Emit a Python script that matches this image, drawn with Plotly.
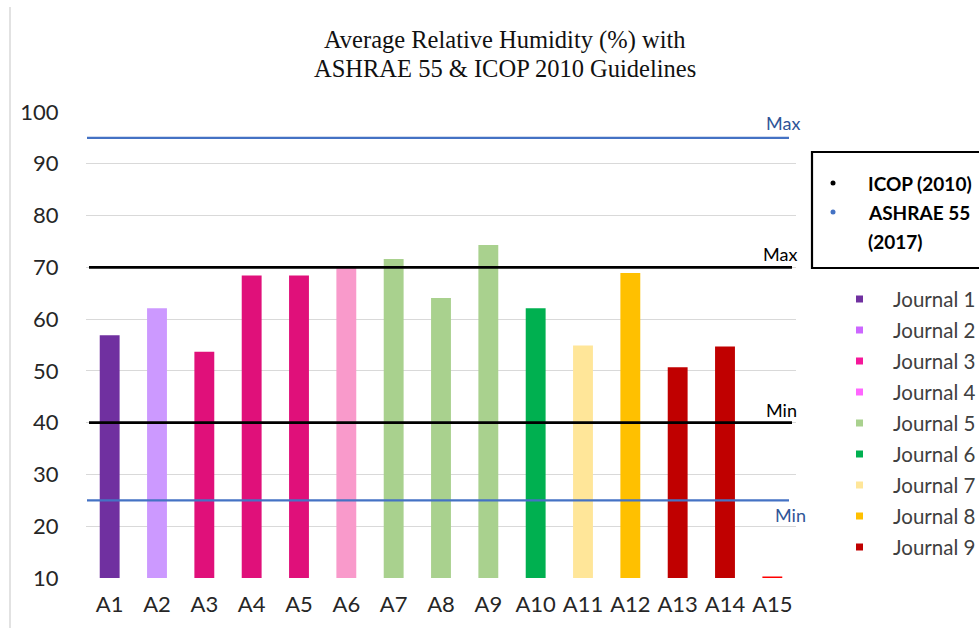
import plotly.graph_objects as go

# ---- data -------------------------------------------------------------
categories = ["A1", "A2", "A3", "A4", "A5", "A6", "A7", "A8", "A9", "A10",
              "A11", "A12", "A13", "A14", "A15"]
humidity = [56.9, 62.1, 53.7, 68.4, 68.4, 69.9, 71.6, 64.1, 74.3, 62.1,
            54.9, 68.9, 50.7, 54.7, 10.3]
bar_colors = ["#7030A0", "#CC99FF", "#E0107A", "#E0107A", "#E0107A", "#F99ACB",
              "#A9D18E", "#A9D18E", "#A9D18E", "#00B050", "#FFE699", "#FFC000",
              "#C00000", "#C00000", "#FF0000"]

journals = ["Journal 1", "Journal 2", "Journal 3", "Journal 4", "Journal 5",
            "Journal 6", "Journal 7", "Journal 8", "Journal 9"]
journal_colors = ["#7030A0", "#CC66FF", "#F5179A", "#FF66FF", "#A9D18E",
                  "#00B050", "#FFE699", "#FFC000", "#C00000"]

guides = ["ICOP (2010)", "ASHRAE 55 (2017)"]
guide_colors = ["#000000", "#4472C4"]
guide_label_colors = ["#000000", "#2F5597"]
guide_min = [40, 25]
guide_max = [70, 95]

y_ticks = [10, 20, 30, 40, 50, 60, 70, 80, 90, 100]

title_lines = ["Average Relative Humidity (%) with",
               "ASHRAE 55 &amp; ICOP 2010 Guidelines"]

# ---- layout geometry (pixels) ----------------------------------------
W, H = 979, 628
L, R, T, B = 86, 183, 112, 50
PW, PH = W - L - R, H - T - B


def px(x):
    return (x - L) / PW


def py(y):
    return (H - B - y) / PH


TICK_FONT = dict(family="Lato, Carlito, sans-serif", size=22, color="#262626")

fig = go.Figure()
fig.add_trace(go.Bar(
    x=categories, y=humidity,
    marker=dict(color=bar_colors, line=dict(width=0)),
    width=0.42, showlegend=False, hoverinfo="x+y",
))

shapes = []
annotations = []

# guideline lines with their Min / Max labels
line_spans = [(89, 792), (87, 789)]
line_widths = [2.6, 2.2]
for i in range(len(guides)):
    x0, x1 = line_spans[i]
    for v in (guide_min[i], guide_max[i]):
        shapes.append(dict(type="line", xref="paper", yref="y",
                           x0=px(x0), x1=px(x1), y0=v, y1=v,
                           line=dict(color=guide_colors[i], width=line_widths[i]),
                           layer="above"))

label_font = dict(family="Lato, Carlito, sans-serif", size=18)
# ICOP: labels above the line, ending at the right
annotations.append(dict(text="Max", xref="paper", yref="y", x=px(799), y=guide_max[0],
                        xanchor="right", yanchor="bottom", yshift=0, showarrow=False,
                        font=dict(**label_font, color=guide_label_colors[0])))
annotations.append(dict(text="Min", xref="paper", yref="y", x=px(799), y=guide_min[0],
                        xanchor="right", yanchor="bottom", yshift=0, showarrow=False,
                        font=dict(**label_font, color=guide_label_colors[0])))
# ASHRAE: Max above, Min below
annotations.append(dict(text="Max", xref="paper", yref="y", x=px(802), y=guide_max[1],
                        xanchor="right", yanchor="bottom", yshift=2, showarrow=False,
                        font=dict(**label_font, color=guide_label_colors[1])))
annotations.append(dict(text="Min", xref="paper", yref="y", x=px(808), y=guide_min[1],
                        xanchor="right", yanchor="top", yshift=-2, showarrow=False,
                        font=dict(**label_font, color=guide_label_colors[1])))

# title, one annotation per line
for ty, line in zip([40, 68], title_lines):
    annotations.append(dict(
        text=line, xref="paper", yref="paper", x=px(505), y=py(ty),
        xanchor="center", yanchor="middle", showarrow=False,
        font=dict(family="Liberation Serif, Times New Roman, serif", size=24.5,
                  color="#111111")))

# outer frame line on the left
shapes.append(dict(type="line", xref="paper", yref="paper", x0=px(10), x1=px(10),
                   y0=py(7), y1=py(640), line=dict(color="#D9D9D9", width=1.5)))

# guideline legend box
shapes.append(dict(type="rect", xref="paper", yref="paper", x0=px(812), x1=px(990),
                   y0=py(152), y1=py(268), line=dict(color="#000000", width=2.2),
                   fillcolor="rgba(0,0,0,0)"))
guide_rows = [[183], [212, 241]]
guide_lines = [["ICOP (2010)"], ["ASHRAE 55", "(2017)"]]
for i in range(len(guides)):
    cy = guide_rows[i][0]
    shapes.append(dict(type="circle", xref="paper", yref="paper",
                       x0=px(830.5), x1=px(835.5), y0=py(cy - 2.5), y1=py(cy + 2.5),
                       fillcolor=guide_colors[i], line=dict(width=0)))
    for ty, txt in zip(guide_rows[i], guide_lines[i]):
        annotations.append(dict(text="<b>" + txt + "</b>", xref="paper", yref="paper",
                                x=px(866), y=py(ty), xanchor="left", yanchor="middle",
                                showarrow=False,
                                font=dict(family="Lato, Carlito, sans-serif", size=19,
                                          color="#000000")))

# journal legend
for k, (name, col) in enumerate(zip(journals, journal_colors)):
    cy = 299 + k * 31
    shapes.append(dict(type="rect", xref="paper", yref="paper",
                       x0=px(856), x1=px(863), y0=py(cy - 3.5), y1=py(cy + 3.5),
                       fillcolor=col, line=dict(width=0)))
    annotations.append(dict(text=name, xref="paper", yref="paper",
                            x=px(891), y=py(cy), xanchor="left", yanchor="middle",
                            showarrow=False,
                            font=dict(family="Lato, Carlito, sans-serif", size=20.5,
                                      color="#404040")))

fig.update_layout(
    width=W, height=H,
    margin=dict(l=L, r=R, t=T, b=B, pad=0),
    paper_bgcolor="white", plot_bgcolor="white",
    shapes=shapes, annotations=annotations,
    showlegend=False,
    xaxis=dict(type="category", showgrid=False, showline=False, zeroline=False,
               tickfont=TICK_FONT, ticks="outside", ticklen=7, tickcolor="rgba(0,0,0,0)"),
    yaxis=dict(range=[10, 100], tickvals=y_ticks, showgrid=True, gridcolor="#D9D9D9",
               gridwidth=1, zeroline=False, showline=False, tickfont=TICK_FONT,
               ticks="outside", ticklen=22, tickcolor="rgba(0,0,0,0)"),
)

fig.write_html("out.html")
